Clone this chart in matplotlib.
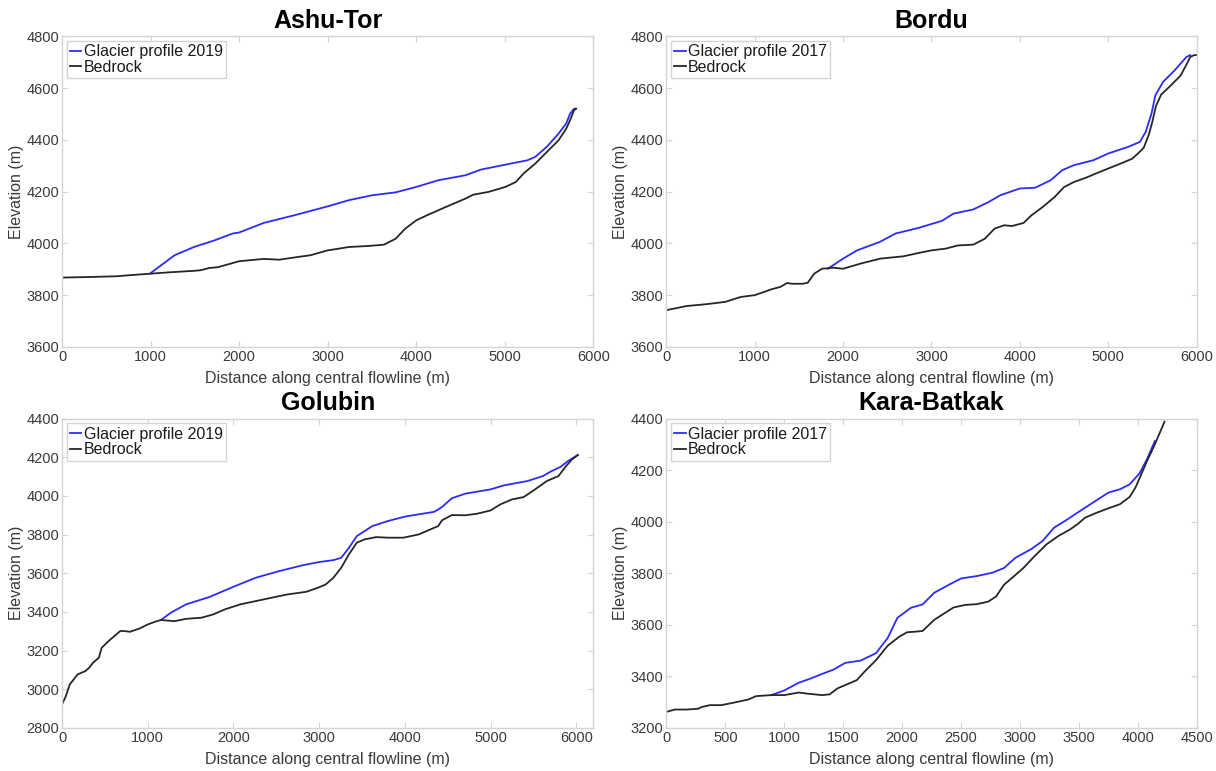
import matplotlib
matplotlib.use("Agg")
import matplotlib.pyplot as plt

plt.rcParams['font.family'] = ['Liberation Sans', 'DejaVu Sans']

# Ashu-Tor
ashu_bed_x = [0, 300, 613, 800, 1000, 1200, 1489, 1560, 1664, 1760, 1927, 2000, 2277, 2453, 2672, 2803, 3000,
              3241, 3460, 3635, 3767, 3876, 4000, 4117, 4336, 4555, 4643, 4818, 5006, 5124, 5212, 5343, 5474,
              5606, 5693, 5737, 5781, 5803]
ashu_bed_y = [3868, 3870, 3873, 3878, 3883, 3888, 3894, 3896, 3905, 3908, 3924, 3931, 3940, 3937, 3948, 3954, 3973,
              3986, 3990, 3995, 4018, 4057, 4089, 4108, 4141, 4173, 4188, 4199, 4218, 4237, 4270, 4308, 4353,
              4398, 4443, 4476, 4514, 4520]
ashu_ice_x = [1000, 1270, 1489, 1708, 1927, 2000, 2277, 2628, 3000, 3241, 3504, 3767, 4000, 4250, 4555, 4730,
              5006, 5255, 5343, 5474, 5606, 5693, 5737, 5781, 5803]
ashu_ice_y = [3885, 3954, 3986, 4010, 4038, 4042, 4079, 4109, 4143, 4167, 4186, 4197, 4218, 4244, 4263, 4285,
              4304, 4321, 4334, 4373, 4424, 4463, 4501, 4520, 4520]

# Bordu
bordu_bed_x = [0, 228, 447, 666, 841, 1000, 1193, 1290, 1367, 1420, 1542, 1600, 1673, 1761, 1892, 2000, 2199,
               2418, 2681, 2856, 3000, 3166, 3298, 3473, 3604, 3714, 3823, 3911, 4043, 4130, 4261, 4393, 4503,
               4612, 4744, 4876, 5000, 5140, 5271, 5337, 5403, 5460, 5500, 5540, 5600, 5709, 5819, 5885, 5929,
               5973, 6000]
bordu_bed_y = [3742, 3758, 3765, 3774, 3793, 3800, 3823, 3832, 3847, 3844, 3844, 3848, 3883, 3902, 3906, 3902, 3922,
               3941, 3950, 3963, 3973, 3980, 3992, 3995, 4018, 4057, 4070, 4067, 4079, 4108, 4141, 4179, 4218,
               4237, 4253, 4272, 4289, 4308, 4327, 4347, 4370, 4420, 4470, 4530, 4575, 4610, 4648, 4690, 4720,
               4727, 4727]
bordu_ice_x = [1827, 2000, 2158, 2418, 2593, 2856, 3118, 3250, 3473, 3648, 3780, 4000, 4174, 4349, 4481, 4612,
               4831, 5000, 5228, 5359, 5425, 5490, 5534, 5622, 5754, 5885, 5929]
bordu_ice_y = [3902, 3941, 3973, 4006, 4038, 4060, 4087, 4115, 4131, 4160, 4186, 4212, 4215, 4244, 4283, 4302,
               4321, 4347, 4373, 4392, 4431, 4501, 4572, 4624, 4669, 4720, 4727]

# Golubin
golubin_bed_x = [0, 45, 90, 181, 226, 271, 320, 362, 430, 462, 543, 633, 679, 724, 792, 905, 1000, 1086, 1154,
                 1312, 1448, 1629, 1765, 1900, 2081, 2262, 2443, 2624, 2851, 2986, 3077, 3167, 3258, 3348, 3439,
                 3529, 3665, 3801, 3982, 4163, 4299, 4389, 4434, 4548, 4706, 4842, 5000, 5113, 5249, 5385, 5520,
                 5656, 5792, 5882, 5950, 6018]
golubin_bed_y = [2921, 2964, 3024, 3076, 3085, 3093, 3112, 3137, 3163, 3214, 3249, 3283, 3301, 3301, 3297, 3314,
                 3335, 3349, 3358, 3352, 3364, 3370, 3387, 3413, 3439, 3456, 3473, 3490, 3504, 3525, 3542, 3577,
                 3629, 3698, 3758, 3775, 3787, 3784, 3784, 3801, 3827, 3844, 3874, 3901, 3900, 3908, 3925, 3956,
                 3982, 3994, 4034, 4077, 4103, 4155, 4189, 4212]
golubin_ice_x = [1154, 1267, 1448, 1719, 2000, 2262, 2534, 2805, 3000, 3167, 3258, 3348, 3439, 3620, 3801, 4000,
                 4163, 4344, 4434, 4548, 4706, 5000, 5158, 5430, 5611, 5701, 5814, 5905, 6018]
golubin_ice_y = [3358, 3395, 3439, 3477, 3530, 3577, 3611, 3641, 3658, 3668, 3680, 3732, 3792, 3844, 3870, 3893,
                 3905, 3918, 3943, 3988, 4012, 4034, 4055, 4077, 4103, 4126, 4150, 4181, 4212]

# Kara-Batkak
kara_bed_x = [0, 72, 171, 269, 302, 368, 466, 565, 696, 762, 891, 1000, 1124, 1189, 1321, 1386, 1452, 1550, 1616,
              1682, 1780, 1879, 1978, 2043, 2109, 2175, 2273, 2372, 2437, 2536, 2635, 2733, 2799, 2865, 2947,
              3029, 3127, 3226, 3325, 3423, 3489, 3555, 3653, 3752, 3850, 3932, 3981, 4031, 4080, 4146, 4228]
kara_bed_y = [3262, 3271, 3271, 3274, 3281, 3288, 3288, 3297, 3310, 3323, 3327, 3327, 3337, 3333, 3327, 3330,
              3353, 3372, 3385, 3418, 3463, 3519, 3554, 3571, 3573, 3576, 3619, 3648, 3667, 3677, 3680, 3690,
              3710, 3755, 3787, 3820, 3867, 3912, 3944, 3969, 3990, 4016, 4035, 4052, 4068, 4096, 4132, 4184,
              4236, 4300, 4388]
kara_ice_x = [891, 1000, 1124, 1222, 1321, 1419, 1518, 1649, 1780, 1879, 1961, 2076, 2175, 2273, 2405, 2503,
              2635, 2766, 2865, 2963, 3094, 3193, 3291, 3390, 3489, 3620, 3752, 3850, 3932, 4015, 4080, 4146]
kara_ice_y = [3327, 3345, 3375, 3391, 3409, 3426, 3452, 3461, 3490, 3549, 3627, 3666, 3679, 3724, 3757, 3780,
              3789, 3802, 3820, 3860, 3893, 3925, 3977, 4005, 4035, 4074, 4113, 4126, 4145, 4187, 4243, 4313]

panels = [
    ("Ashu-Tor", "Glacier profile 2019", ashu_ice_x, ashu_ice_y, ashu_bed_x, ashu_bed_y,
     (0, 6000), (3600, 4800), [0, 1000, 2000, 3000, 4000, 5000, 6000], [3600, 3800, 4000, 4200, 4400, 4600, 4800]),
    ("Bordu", "Glacier profile 2017", bordu_ice_x, bordu_ice_y, bordu_bed_x, bordu_bed_y,
     (0, 6000), (3600, 4800), [0, 1000, 2000, 3000, 4000, 5000, 6000], [3600, 3800, 4000, 4200, 4400, 4600, 4800]),
    ("Golubin", "Glacier profile 2019", golubin_ice_x, golubin_ice_y, golubin_bed_x, golubin_bed_y,
     (0, 6200), (2800, 4400), [0, 1000, 2000, 3000, 4000, 5000, 6000],
     [2800, 3000, 3200, 3400, 3600, 3800, 4000, 4200, 4400]),
    ("Kara-Batkak", "Glacier profile 2017", kara_ice_x, kara_ice_y, kara_bed_x, kara_bed_y,
     (0, 4500), (3200, 4400), [0, 500, 1000, 1500, 2000, 2500, 3000, 3500, 4000, 4500],
     [3200, 3400, 3600, 3800, 4000, 4200, 4400]),
]

# axes boxes in figure fractions: left, bottom, width, height
boxes = [
    [0.051, 0.550, 0.437, 0.403],
    [0.548, 0.550, 0.436, 0.403],
    [0.051, 0.056, 0.437, 0.401],
    [0.548, 0.056, 0.436, 0.401],
]

fig = plt.figure(figsize=(12.16, 7.71), dpi=100)
frame = '#d4d4d4'
txt = '#3a3a3a'

for (title, lab, ix, iy, bx, by, xl, yl, xt, yt), box in zip(panels, boxes):
    ax = fig.add_axes(box)
    ax.plot(ix, iy, color='#2b2bff', lw=1.3, label=lab)
    ax.plot(bx, by, color='#262626', lw=1.3, label='Bedrock')
    ax.set_xlim(*xl)
    ax.set_ylim(*yl)
    ax.set_xticks(xt)
    ax.set_yticks(yt)
    ax.tick_params(direction='in', top=True, right=True, length=4, width=0.8, color=frame,
                   labelcolor=txt, labelsize=10.5, pad=2)
    for s in ax.spines.values():
        s.set_color(frame)
        s.set_linewidth(1.0)
    ax.set_title(title, fontsize=18, fontweight='bold', pad=6)
    ax.set_xlabel('Distance along central flowline (m)', fontsize=11.5, color=txt, labelpad=5)
    ax.set_ylabel('Elevation (m)', fontsize=11.5, color=txt, labelpad=2)
    leg = ax.legend(loc='upper left', fancybox=False, edgecolor=frame, fontsize=11.5,
                    handlelength=0.7, handletextpad=0.15, borderpad=0.2, labelspacing=0.05,
                    borderaxespad=0.3, framealpha=1)
    for t in leg.get_texts():
        t.set_color('#1a1a1a')

fig.savefig('out.png', dpi=100)
